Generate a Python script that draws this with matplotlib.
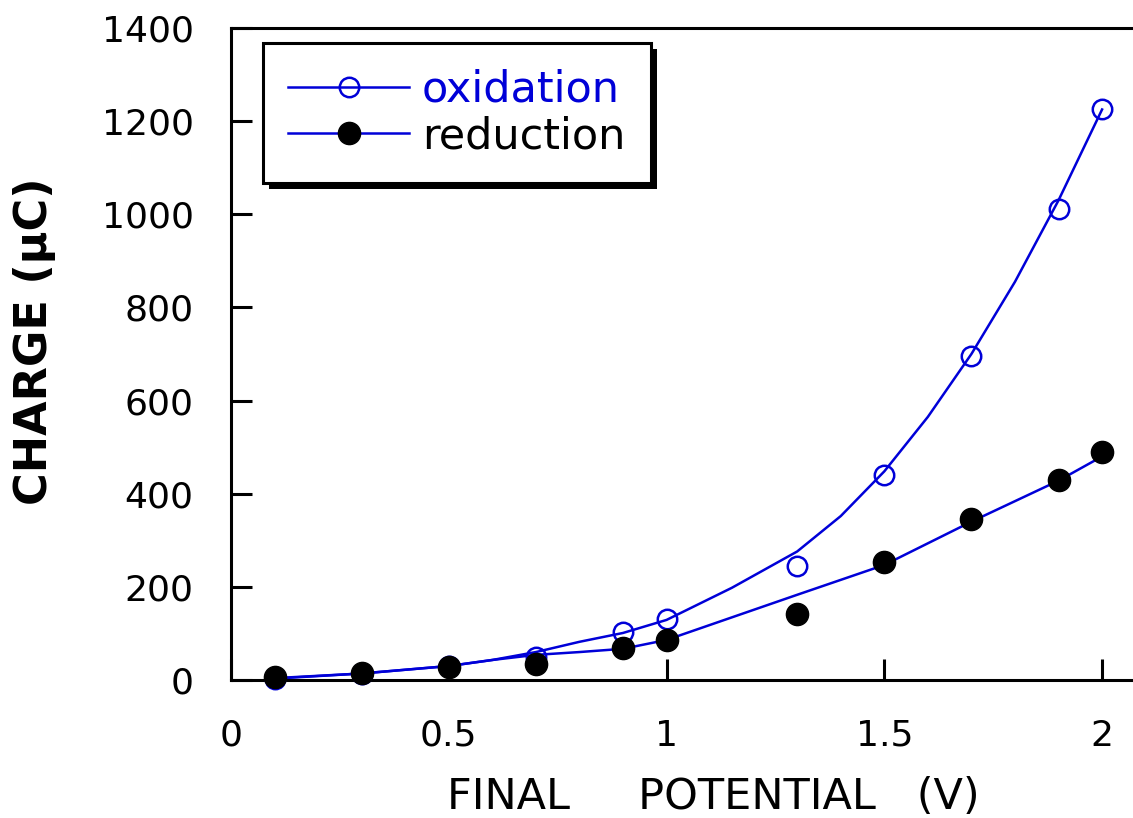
import matplotlib
matplotlib.use("Agg")
import matplotlib.pyplot as plt
from matplotlib.lines import Line2D
from matplotlib.patches import Rectangle

# measured points
potential = [0.1, 0.3, 0.5, 0.7, 0.9, 1.0, 1.3, 1.5, 1.7, 1.9, 2.0]
oxidation = [3, 12, 30, 50, 103, 131, 245, 440, 696, 1012, 1226]
reduction = [7, 14, 28, 34, 69, 86, 142, 254, 345, 430, 489]

# fitted curves as drawn in the figure
ox_fit_x = [0.1, 0.3, 0.5, 0.6, 0.7, 0.8, 0.9, 1.0, 1.15, 1.3, 1.4, 1.5, 1.6, 1.7, 1.8, 1.9, 2.0]
ox_fit_y = [3, 14, 30, 43, 60, 82, 101, 129, 198, 276, 352, 448, 565, 700, 855, 1030, 1225]
red_fit_x = [0.1, 0.3, 0.5, 0.6, 0.7, 0.8, 0.9, 1.0, 1.3, 1.5, 1.7, 1.9, 2.0]
red_fit_y = [4, 14, 30, 43, 54, 60, 67, 86, 183, 247, 340, 428, 480]

xticks = [0, 0.5, 1, 1.5, 2]
xticklabels = ["0", "0.5", "1", "1.5", "2"]
yticks = [0, 200, 400, 600, 800, 1000, 1200, 1400]

blue = "#0000d8"

fig = plt.figure(figsize=(11.33, 8.18), dpi=100)
ax = fig.add_axes([0.2039, 0.1687, 0.7961, 0.7971])

ax.plot(ox_fit_x, ox_fit_y, color=blue, lw=1.8, zorder=2)
ax.plot(red_fit_x, red_fit_y, color=blue, lw=1.8, zorder=2)
ax.plot(potential, oxidation, ls="none", marker="o", ms=14, mfc="none",
        mec=blue, mew=1.8, zorder=3, clip_on=False)
ax.plot(potential, reduction, ls="none", marker="o", ms=16, mfc="black",
        mec="black", zorder=4, clip_on=False)

ax.set_xlim(0, 2.071)
ax.set_ylim(0, 1400)
ax.set_xticks(xticks)
ax.set_xticklabels(xticklabels)
ax.set_yticks(yticks)

for s in ["left", "bottom", "top"]:
    ax.spines[s].set_linewidth(2.2)
ax.spines["right"].set_visible(False)

ax.tick_params(direction="in", length=15, width=2.2, labelsize=26)
ax.tick_params(axis="y", pad=27)
ax.tick_params(axis="x", pad=28)
ax.tick_params(top=False, right=False)

ax.set_xlabel("FINAL     POTENTIAL   (V)", fontsize=31, va="center")
ax.xaxis.set_label_coords(0.535, -0.18)
ax.set_ylabel("CHARGE (\u00b5C)", fontsize=32, fontweight="bold", va="center")
ax.yaxis.set_label_coords(-0.218, 0.52)

handles = [
    Line2D([], [], color=blue, lw=1.8, marker="o", ms=14, mfc="none", mec=blue, mew=1.8),
    Line2D([], [], color=blue, lw=1.8, marker="o", ms=16, mfc="black", mec="black"),
]
leg = ax.legend(handles, ["oxidation", "reduction"], loc="upper left",
                bbox_to_anchor=(0.035, 0.977), borderaxespad=0, fontsize=31,
                handlelength=2.8, handletextpad=0.3, labelspacing=0.1,
                borderpad=0.6, fancybox=False, framealpha=1, edgecolor="black")
leg.get_frame().set_linewidth(2.2)
leg.set_zorder(6)
leg.get_texts()[0].set_color(blue)

fig.canvas.draw()
bb = leg.get_window_extent()
shadow = Rectangle((bb.x0 + 6, bb.y0 - 6), bb.width, bb.height, transform=None,
                   facecolor="black", edgecolor="none", zorder=5, clip_on=False)
ax.add_artist(shadow)

fig.savefig("out.png", dpi=100)
